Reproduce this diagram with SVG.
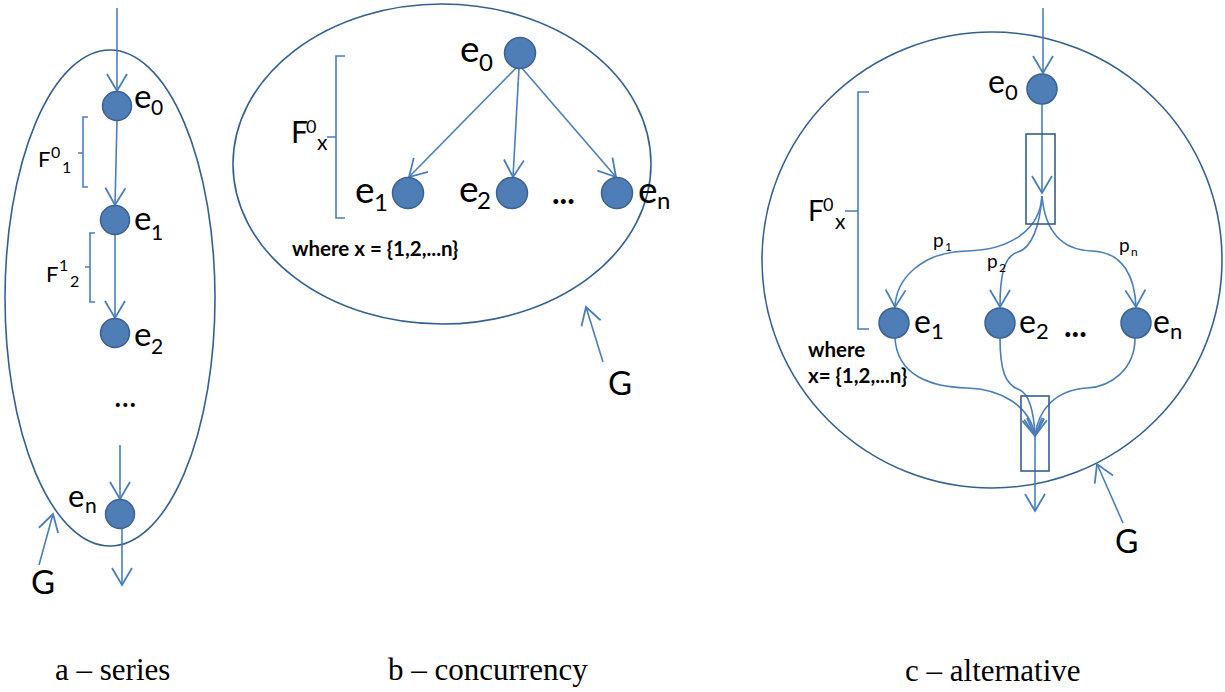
<svg xmlns="http://www.w3.org/2000/svg" width="1225" height="692" viewBox="0 0 1225 692">
<style>
.bg{fill:#ffffff}
.grp{fill:none;stroke:#355F91;stroke-width:1.6}
.node{fill:#4F7DB6;stroke:#3A6194;stroke-width:1.5}
.edge{fill:none;stroke:#4A7EBB;stroke-width:1.6}
.arr{marker-end:url(#arrow)}
.brace{fill:none;stroke:#4A7EBB;stroke-width:1.6}
.lbl{font-family:Lato,"Liberation Sans",sans-serif;fill:#000}
.bold{font-family:Lato,"Liberation Sans",sans-serif;font-weight:bold;fill:#000}
.cap{font-family:"Liberation Serif",serif;font-size:31px;fill:#000}
</style>
<defs>
<marker id="arrow" markerUnits="userSpaceOnUse" markerWidth="22" markerHeight="24" viewBox="-19 -12 21 24" refX="0" refY="0" orient="auto">
<path d="M-17,-10 L0,0 L-17,10" fill="none" stroke="#4A7EBB" stroke-width="1.8"/>
</marker>
</defs>
<rect class="bg" x="0" y="0" width="1225" height="692"/>

<!-- Panel a: series -->
<g id="graph-a">
<ellipse class="grp" cx="110" cy="298" rx="105" ry="248"/>
</g>
<g id="connectors-a">
<line class="edge arr" x1="117" y1="8" x2="117" y2="91"/>
<line class="edge arr" x1="117" y1="121" x2="115" y2="205"/>
<line class="edge arr" x1="115" y1="235" x2="115" y2="318"/>
<line class="edge arr" x1="120" y1="445" x2="120" y2="499"/>
<line class="edge arr" x1="122" y1="529" x2="122" y2="585"/>
<line class="edge arr" x1="39" y1="565" x2="53" y2="514"/>
</g>
<g id="a-e0"><circle class="node" cx="117" cy="106" r="14.5"/><text class="lbl" font-size="33"><tspan x="134" y="108">e</tspan><tspan x="151" y="115" font-size="21">0</tspan></text></g>
<g id="a-e1"><circle class="node" cx="115" cy="220" r="14.5"/><text class="lbl" font-size="33"><tspan x="134" y="230">e</tspan><tspan x="151" y="240" font-size="21">1</tspan></text></g>
<g id="a-e2"><circle class="node" cx="115" cy="333" r="14.5"/><text class="lbl" font-size="33"><tspan x="134" y="346">e</tspan><tspan x="151" y="354" font-size="21">2</tspan></text></g>
<g id="a-dots"><text class="lbl" x="114" y="407" font-size="32">...</text></g>
<g id="a-en"><circle class="node" cx="120" cy="514" r="14.5"/><text class="lbl" font-size="31"><tspan x="68" y="507">e</tspan><tspan x="85" y="513" font-size="21">n</tspan></text></g>
<g id="a-F01"><path class="brace" d="M88,117 L83,117 L83,187 L88,187 M83,153 L78,153"/><text class="lbl" font-size="22"><tspan x="38" y="167">F</tspan><tspan x="51" y="158" font-size="16">0</tspan><tspan x="62" y="173" font-size="16">1</tspan></text></g>
<g id="a-F12"><path class="brace" d="M95,233 L90,233 L90,302 L95,302 M90,267 L85,267"/><text class="lbl" font-size="22"><tspan x="46" y="282">F</tspan><tspan x="59" y="271" font-size="16">1</tspan><tspan x="70" y="287" font-size="16">2</tspan></text></g>
<g id="a-G"><text class="lbl" x="31" y="594" font-size="33">G</text></g>

<!-- Panel b: concurrency -->
<g id="graph-b">
<ellipse class="grp" cx="442" cy="164" rx="209" ry="160"/>
</g>
<g id="connectors-b">
<line class="edge arr" x1="518" y1="66" x2="409" y2="177"/>
<line class="edge arr" x1="519" y1="68" x2="513" y2="177"/>
<line class="edge arr" x1="521" y1="67" x2="616" y2="177"/>
<line class="edge arr" x1="603" y1="362" x2="586" y2="307"/>
</g>
<g id="b-e0"><circle class="node" cx="520" cy="53" r="15.5"/><text class="lbl" font-size="37"><tspan x="460" y="62">e</tspan><tspan x="479" y="71" font-size="24">0</tspan></text></g>
<g id="b-e1"><circle class="node" cx="408" cy="193" r="15.5"/><text class="lbl" font-size="37"><tspan x="355" y="203">e</tspan><tspan x="374" y="211" font-size="24">1</tspan></text></g>
<g id="b-e2"><circle class="node" cx="512" cy="193" r="15.5"/><text class="lbl" font-size="37"><tspan x="459" y="202">e</tspan><tspan x="477" y="209" font-size="24">2</tspan></text></g>
<g id="b-dots"><text class="bold" x="552" y="204" font-size="32">...</text></g>
<g id="b-en"><circle class="node" cx="617" cy="193" r="15.5"/><text class="lbl" font-size="37"><tspan x="638" y="203">e</tspan><tspan x="657" y="209" font-size="24">n</tspan></text></g>
<g id="b-F0x"><path class="brace" d="M345,56 L336,56 L336,218 L345,218 M336,137 L327,137"/><text class="lbl" font-size="30"><tspan x="291" y="143">F</tspan><tspan x="306" y="133" font-size="18">0</tspan><tspan x="317" y="150" font-size="21">x</tspan></text></g>
<g id="b-where"><text class="bold" x="292" y="256" font-size="20.5">where x = {1,2,...n}</text></g>
<g id="b-G"><text class="lbl" x="608" y="395" font-size="33">G</text></g>

<!-- Panel c: alternative -->
<g id="graph-c">
<ellipse class="grp" cx="992" cy="260" rx="230" ry="228"/>
</g>
<g id="connectors-c">
<line class="edge arr" x1="1043" y1="8" x2="1043" y2="73"/>
<line class="edge arr" x1="1042" y1="104" x2="1042" y2="193"/>
<path class="edge arr" d="M1042,196 C1040,230 1010,250 967,251 C920,252 896,280 895,307"/>
<path class="edge arr" d="M1042,196 C1040,225 1032,248 1018,252 C1004,256 1000,275 1000,307"/>
<path class="edge arr" d="M1042,196 C1045,230 1060,250 1092,251 C1125,252 1135,280 1136,307"/>
<path class="edge arr" d="M895,338 C897,375 930,387 967,388 C1000,389 1030,405 1035,436"/>
<path class="edge arr" d="M1000,338 C1000,370 1005,385 1020,390 C1030,395 1034,415 1035,436"/>
<path class="edge arr" d="M1135,338 C1135,370 1110,387 1087,388 C1055,390 1038,410 1035,436"/>
<line class="edge arr" x1="1035" y1="436" x2="1035" y2="511"/>
<line class="edge arr" x1="1123" y1="523" x2="1097" y2="464"/>
</g>
<g id="c-split"><rect class="grp" x="1026" y="134" width="29" height="90"/></g>
<g id="c-merge"><rect class="grp" x="1021" y="396" width="28" height="75"/></g>
<g id="c-e0"><circle class="node" cx="1042" cy="89" r="15"/><text class="lbl" font-size="32"><tspan x="988" y="93">e</tspan><tspan x="1005" y="100" font-size="22">0</tspan></text></g>
<g id="c-e1"><circle class="node" cx="894" cy="323" r="15"/><text class="lbl" font-size="32"><tspan x="914" y="333">e</tspan><tspan x="931" y="339" font-size="22">1</tspan></text></g>
<g id="c-e2"><circle class="node" cx="1000" cy="323" r="15"/><text class="lbl" font-size="32"><tspan x="1019" y="333">e</tspan><tspan x="1036" y="339" font-size="22">2</tspan></text></g>
<g id="c-dots"><text class="bold" x="1064" y="337" font-size="32">...</text></g>
<g id="c-en"><circle class="node" cx="1136" cy="323" r="15"/><text class="lbl" font-size="32"><tspan x="1153" y="333">e</tspan><tspan x="1170" y="339" font-size="22">n</tspan></text></g>
<g id="c-p1"><text class="lbl" font-size="19"><tspan x="933" y="247">p</tspan><tspan x="945" y="251" font-size="12">1</tspan></text></g>
<g id="c-p2"><text class="lbl" font-size="19"><tspan x="987" y="268">p</tspan><tspan x="999" y="272" font-size="12">2</tspan></text></g>
<g id="c-pn"><text class="lbl" font-size="19"><tspan x="1119" y="252">p</tspan><tspan x="1131" y="256" font-size="12">n</tspan></text></g>
<g id="c-F0x"><path class="brace" d="M869,92 L858,92 L858,329 L869,329 M858,211 L845,211"/><text class="lbl" font-size="28"><tspan x="808" y="221">F</tspan><tspan x="823" y="211" font-size="18">0</tspan><tspan x="835" y="229" font-size="21">x</tspan></text></g>
<g id="c-where"><text class="bold" font-size="20.5"><tspan x="808" y="357">where</tspan><tspan x="808" y="383">x= {1,2,...n}</tspan></text></g>
<g id="c-G"><text class="lbl" x="1115" y="553" font-size="32">G</text></g>

<!-- Captions -->
<g id="captions">
<text class="cap" x="55" y="680">a – series</text>
<text class="cap" x="388" y="680">b – concurrency</text>
<text class="cap" x="905" y="681">c – alternative</text>
</g>
</svg>
